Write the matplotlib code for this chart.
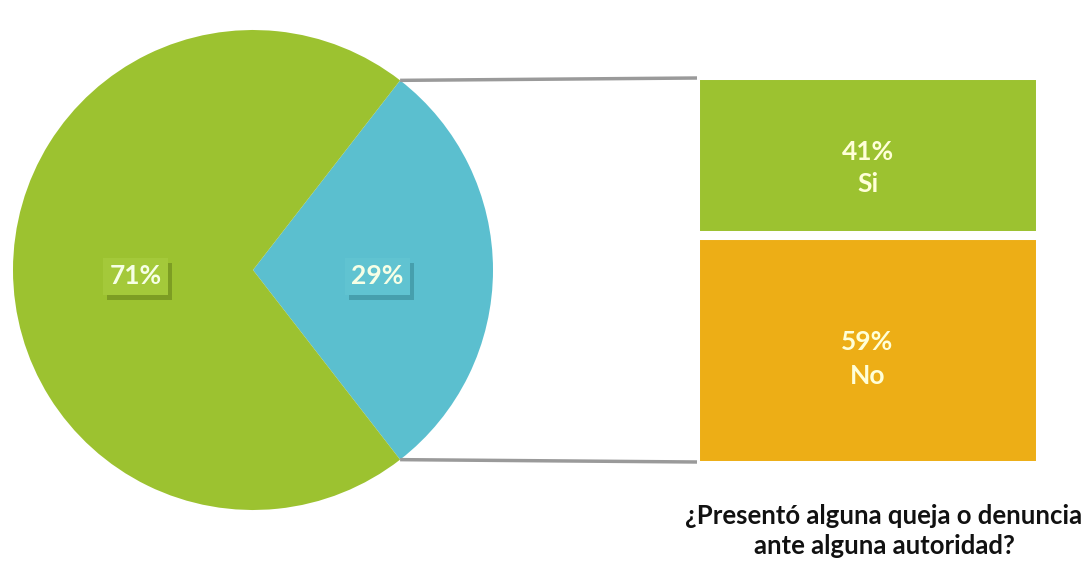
import matplotlib.pyplot as plt
from matplotlib.patches import Rectangle
import numpy as np

# --- data ---
pie_labels = ["29%", "71%"]
pie_values = [29, 71]
pie_colors = ["#5BBFCF", "#9CC230"]

bar_labels = ["No", "Si"]
bar_values = [59, 41]
bar_colors = ["#EDAE16", "#9CC230"]

title = "¿Presentó alguna queja o denuncia\nante alguna autoridad?"

plt.rcParams['font.family'] = ['Lato', 'DejaVu Sans']

W, H = 1088, 568
fig = plt.figure(figsize=(W / 100, H / 100), dpi=100)
ax = fig.add_axes([0, 0, 1, 1])

# --- pie ---
cx, cy, r = 253, H - 270, 240
half = pie_values[0] / sum(pie_values) * 180
ax.pie(pie_values, colors=pie_colors, startangle=-half, center=(cx, cy),
       radius=r, wedgeprops=dict(linewidth=0))

# --- stacked bar (white edges make the gap) ---
lw = 6.5
lw_px = lw * 100 / 72
bx, bw = 867.5, 335 + lw_px
btop, bbot = H - 80 + lw_px / 2, H - 460 - lw_px / 2
scale = (btop - bbot) / sum(bar_values)
bottom = bbot
for lab, v, c in zip(bar_labels, bar_values, bar_colors):
    ax.bar(bx, v * scale, width=bw, bottom=bottom, color=c,
           edgecolor="white", linewidth=lw)
    bottom += v * scale

# --- connector lines ---
a = np.radians(half)
x_end = bx - bw / 2 + lw_px / 2 - 3
ax.plot([cx + r * np.cos(a), x_end], [cy + r * np.sin(a), H - 78],
        color="#9A9A9A", lw=2.5, solid_capstyle="butt")
ax.plot([cx + r * np.cos(a), x_end], [cy - r * np.sin(a), H - 462],
        color="#9A9A9A", lw=2.5, solid_capstyle="butt")

# --- pie labels with shadow boxes ---
pie_label_pos = [(377.5, H - 276.5), (135.5, H - 276.5)]
box_cols = ["#60C3D1", "#A4C93A"]
shadow_cols = ["#3C8F9C", "#6D8A1C"]
bw_lab, bh_lab = 65, 37
for lab, (x, y), bc, sc in zip(pie_labels, pie_label_pos, box_cols, shadow_cols):
    ax.add_patch(Rectangle((x - bw_lab / 2 + 4, y - bh_lab / 2 - 5), bw_lab, bh_lab,
                           fc=sc, ec="none", alpha=0.65))
    ax.add_patch(Rectangle((x - bw_lab / 2, y - bh_lab / 2), bw_lab, bh_lab,
                           fc=bc, ec="none"))
    ax.text(x, y, lab, ha="center", va="center", fontsize=19,
            fontweight="bold", color="#F6FFE6")

# --- bar labels ---
for lab, v in zip(bar_labels, bar_values):
    yc = H - 168 if lab == "Si" else H - 359
    ax.text(bx, yc, f"{v}%\n{lab}", ha="center", va="center", fontsize=19,
            fontweight="bold", color="#FFFFD8", linespacing=1.45)

# --- title ---
ax.text(884, H - 531, title, ha="center", va="center", fontsize=18.5,
        fontweight="bold", color="#111111", linespacing=1.3)

ax.set_xlim(0, W)
ax.set_ylim(0, H)
ax.set_aspect("auto")
ax.axis("off")

fig.savefig("out.png", dpi=100, facecolor="white")
